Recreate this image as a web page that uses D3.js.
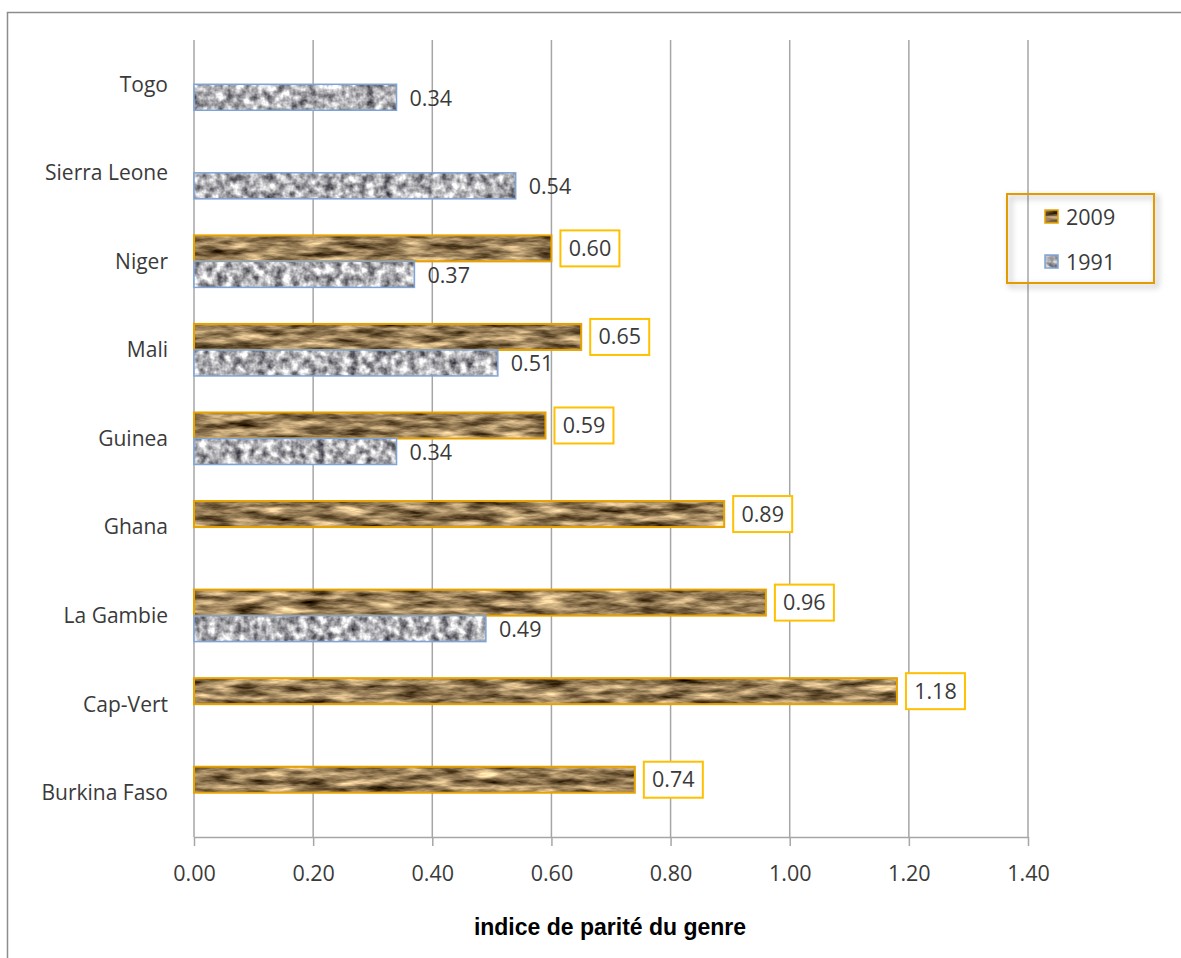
<!DOCTYPE html>
<html>
<meta charset="utf-8">
<style>
body { margin: 0; background: #fff; }
svg text { font-family: "Open Sans", sans-serif; fill: #3a3a3a; }
.grid line { stroke: #a6a6a6; stroke-width: 1.5; }
.axis path, .axis line { stroke: #a6a6a6; stroke-width: 1.5; fill: none; }
.axis text { font-family: "Open Sans", sans-serif; font-size: 21.5px; fill: #3a3a3a; }
.cat { font-size: 21px; }
.lbl { font-size: 21.5px; }
.title { font-family: "Liberation Sans", Arial, sans-serif; font-weight: bold; font-size: 23px; fill: #000; }
</style>
<body>
<div id="chart"></div>
<script src="https://d3js.org/d3.v7.min.js"></script>
<script>

var categories = ["Togo", "Sierra Leone", "Niger", "Mali", "Guinea", "Ghana", "La Gambie", "Cap-Vert", "Burkina Faso"];
var series = ["2009", "1991"];
var values2009 = [null, null, 0.60, 0.65, 0.59, 0.89, 0.96, 1.18, 0.74];
var values1991 = [0.34, 0.54, 0.37, 0.51, 0.34, null, 0.49, null, null];
var xTicks = [0, 0.2, 0.4, 0.6, 0.8, 1.0, 1.2, 1.4];
var xTitle = "indice de parité du genre";

var W = 1181, H = 958;
var plotLeft = 194, plotRight = 1028, plotTop = 40, plotBottom = 837;

var svg = d3.select("#chart").append("svg")
    .attr("width", W)
    .attr("height", H);

var defs = svg.append("defs");

// brown "papyrus" texture for 2009
var f1 = defs.append("filter").attr("id", "tex2009")
    .attr("color-interpolation-filters", "sRGB");
f1.append("feTurbulence")
    .attr("type", "fractalNoise")
    .attr("baseFrequency", "0.03 0.14")
    .attr("numOctaves", 4)
    .attr("seed", 7)
    .attr("result", "n");
f1.append("feColorMatrix")
    .attr("in", "n")
    .attr("type", "matrix")
    .attr("values", "1.3 0 0 0 -0.06  1.2 0 0 0 -0.11  1.0 0 0 0 -0.16  0 0 0 0 1")
    .attr("result", "c");
f1.append("feComposite").attr("in", "c").attr("in2", "SourceGraphic").attr("operator", "in");

// grey granite texture for 1991
var f2 = defs.append("filter").attr("id", "tex1991")
    .attr("color-interpolation-filters", "sRGB");
f2.append("feTurbulence")
    .attr("type", "fractalNoise")
    .attr("baseFrequency", "0.12")
    .attr("numOctaves", 3)
    .attr("seed", 3)
    .attr("result", "n");
f2.append("feColorMatrix")
    .attr("in", "n")
    .attr("type", "matrix")
    .attr("values", "1.3 0 0 0 0.04  1.3 0 0 0 0.04  1.25 0 0 0 0.08  0 0 0 0 1")
    .attr("result", "c");
f2.append("feComposite").attr("in", "c").attr("in2", "SourceGraphic").attr("operator", "in");

var sh = defs.append("filter").attr("id", "shadow")
    .attr("x", "-10%").attr("y", "-10%").attr("width", "130%").attr("height", "130%");
sh.append("feDropShadow")
    .attr("dx", 3).attr("dy", 3).attr("stdDeviation", 3)
    .attr("flood-color", "#000").attr("flood-opacity", 0.35);

// outer frame
svg.append("rect")
    .attr("x", 7.5).attr("y", 12.5)
    .attr("width", W).attr("height", H)
    .attr("fill", "none")
    .attr("stroke", "#8c8c8c")
    .attr("stroke-width", 1.5);

var x = d3.scaleLinear()
    .domain([0, 1.4])
    .range([plotLeft, plotRight]);

var y = d3.scaleBand()
    .domain(categories)
    .range([plotTop, plotBottom]);

var ys = d3.scaleBand()
    .domain(series)
    .range([0, 52]);

function barY(cat, s) {
    return y(cat) + y.bandwidth() / 2 - 26 + ys(s);
}

// gridlines
svg.append("g")
    .attr("class", "grid")
    .selectAll("line")
    .data(xTicks)
    .join("line")
    .attr("x1", d => x(d)).attr("x2", d => x(d))
    .attr("y1", plotTop).attr("y2", plotBottom);

// x axis
svg.append("g")
    .attr("class", "axis")
    .attr("transform", "translate(0," + plotBottom + ")")
    .call(d3.axisBottom(x).tickValues(xTicks).tickFormat(d3.format(".2f")).tickSizeInner(9).tickSizeOuter(0).tickPadding(20));

// category labels
svg.append("g")
    .selectAll("text")
    .data(categories)
    .join("text")
    .attr("class", "cat")
    .attr("x", plotLeft - 26)
    .attr("y", d => y(d) + y.bandwidth() / 2)
    .attr("text-anchor", "end")
    .attr("dy", "0.35em")
    .text(d => d);

var rows = [];
categories.forEach(function(c, i) {
    if (values2009[i] != null) rows.push({cat: c, s: "2009", v: values2009[i]});
    if (values1991[i] != null) rows.push({cat: c, s: "1991", v: values1991[i]});
});

var bars = svg.append("g").selectAll("g")
    .data(rows)
    .join("g");

bars.append("rect")
    .attr("x", x(0))
    .attr("y", d => barY(d.cat, d.s))
    .attr("width", d => x(d.v) - x(0))
    .attr("height", ys.bandwidth())
    .attr("fill", "#000")
    .attr("filter", d => "url(#tex" + d.s + ")");

bars.append("rect")
    .attr("x", x(0))
    .attr("y", d => barY(d.cat, d.s))
    .attr("width", d => x(d.v) - x(0))
    .attr("height", ys.bandwidth())
    .attr("fill", "none")
    .attr("stroke", d => d.s == "2009" ? "#e8a200" : "#7fa3d6")
    .attr("stroke-width", d => d.s == "2009" ? 2 : 1.5);

// value labels
var lab09 = bars.filter(d => d.s == "2009");
lab09.append("rect")
    .attr("x", d => x(d.v) + 9)
    .attr("y", d => barY(d.cat, d.s) + ys.bandwidth() / 2 - 18)
    .attr("width", 59)
    .attr("height", 36)
    .attr("fill", "#fff")
    .attr("stroke", "#ffc000")
    .attr("stroke-width", 2);
lab09.append("text")
    .attr("class", "lbl")
    .attr("x", d => x(d.v) + 38.5)
    .attr("y", d => barY(d.cat, d.s) + ys.bandwidth() / 2)
    .attr("dy", "0.35em")
    .attr("text-anchor", "middle")
    .text(d => d3.format(".2f")(d.v));

bars.filter(d => d.s == "1991").append("text")
    .attr("class", "lbl")
    .attr("x", d => x(d.v) + 13)
    .attr("y", d => barY(d.cat, d.s) + ys.bandwidth() / 2 + 1)
    .attr("dy", "0.35em")
    .text(d => d3.format(".2f")(d.v));

// axis title
svg.append("text")
    .attr("class", "title")
    .attr("x", 610)
    .attr("y", 927)
    .attr("dy", "0.35em")
    .attr("text-anchor", "middle")
    .text(xTitle);

// legend
var lg = svg.append("g").attr("transform", "translate(1007,194)");
lg.append("rect")
    .attr("width", 147).attr("height", 89)
    .attr("fill", "none")
    .attr("stroke", "#e39b00")
    .attr("stroke-width", 2)
    .attr("filter", "url(#shadow)");
var li = lg.selectAll("g.item")
    .data(series)
    .join("g")
    .attr("class", "item")
    .attr("transform", (d, i) => "translate(38," + (23 + i * 45) + ")");
li.append("rect")
    .attr("y", -7).attr("width", 13).attr("height", 13)
    .attr("fill", "#000")
    .attr("filter", d => "url(#tex" + d + ")");
li.append("rect")
    .attr("y", -7).attr("width", 13).attr("height", 13)
    .attr("fill", "none")
    .attr("stroke", d => d == "2009" ? "#e8a200" : "#7fa3d6")
    .attr("stroke-width", 1.5);
li.append("text")
    .attr("class", "lbl")
    .attr("x", 21)
    .attr("dy", "0.35em")
    .text(d => d);

</script>
</body>
</html>
